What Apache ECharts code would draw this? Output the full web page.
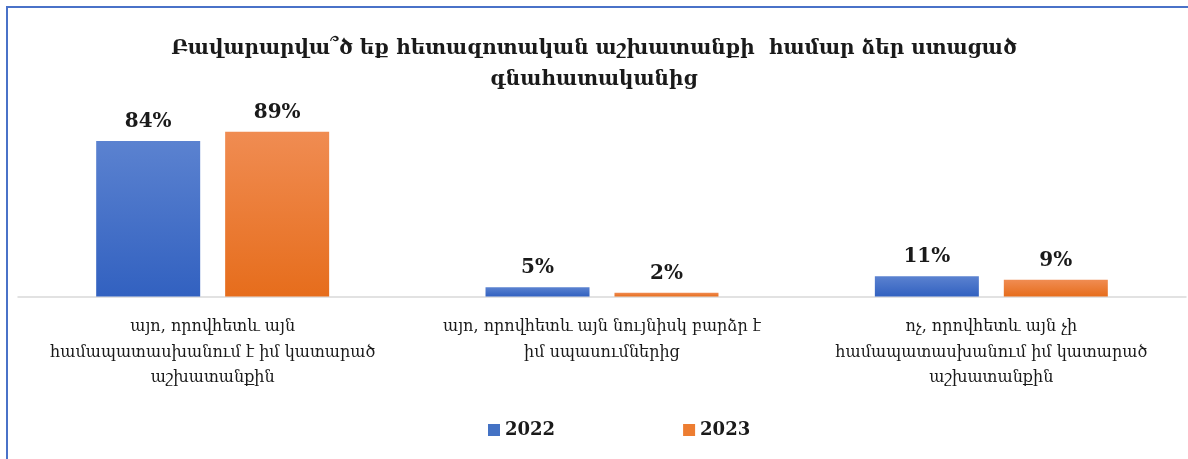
<!DOCTYPE html>
<html>
<head>
<meta charset="utf-8">
<script src="https://cdn.jsdelivr.net/npm/echarts@6/dist/echarts.min.js"></script>
<style>html,body{margin:0;padding:0;background:#fff;}#c{width:1188px;height:459px;}</style>
</head>
<body>
<div id="c"></div>
<script>
const titleText = 'Բավարարվա՞ծ եք հետազոտական աշխատանքի  համար ձեր ստացած\nգնահատականից';
const categories = [
  'այո, որովհետև այն\nհամապատասխանում է իմ կատարած\nաշխատանքին',
  'այո, որովհետև այն նույնիսկ բարձր է\nիմ սպասումներից',
  'ոչ, որովհետև այն չի\nհամապատասխանում իմ կատարած\nաշխատանքին'
];
const seriesNames = ['2022', '2023'];
const values2022 = [84, 5, 11];
const values2023 = [89, 2, 9];

const font = '"DejaVu Serif", serif';
function grad(top, bottom) {
  return new echarts.graphic.LinearGradient(0, 0, 0, 1, [
    {offset: 0, color: top}, {offset: 1, color: bottom}
  ]);
}
const chart = echarts.init(document.getElementById('c'));
chart.setOption({
  animation: false,
  backgroundColor: '#ffffff',
  title: {
    text: titleText,
    left: 'center',
    top: 28,
    textStyle: {fontFamily: font, fontSize: 20, fontWeight: 'bold', color: '#1a1a1a', lineHeight: 31}
  },
  legend: {
    bottom: 15,
    left: 483,
    itemWidth: 12,
    itemHeight: 12,
    itemGap: 128,
    icon: 'rect',
    textStyle: {fontFamily: font, fontSize: 18, fontWeight: 'bold', color: '#1a1a1a'},
    data: [
      {name: seriesNames[0], itemStyle: {color: '#4472c4'}},
      {name: seriesNames[1], itemStyle: {color: '#ed7d31'}}
    ]
  },
  grid: {left: 18, right: 2, top: 111.5, bottom: 162.5, containLabel: false},
  xAxis: {
    type: 'category',
    data: categories,
    axisLine: {lineStyle: {color: '#d9d9d9', width: 1.5}},
    axisTick: {show: false},
    axisLabel: {fontFamily: font, fontSize: 16, color: '#1a1a1a', lineHeight: 25.5, margin: 18, interval: 0}
  },
  yAxis: {type: 'value', min: 0, max: 100, show: false, splitLine: {show: false}},
  series: [
    {
      name: seriesNames[0], type: 'bar', data: values2022, barWidth: 104, barGap: '24%',
      itemStyle: {color: grad('#5b82d0', '#3261c0')},
      label: {show: true, position: 'top', distance: 9, formatter: '{c}%', fontFamily: font, fontSize: 20, fontWeight: 'bold', color: '#1a1a1a'}
    },
    {
      name: seriesNames[1], type: 'bar', data: values2023, barWidth: 104,
      itemStyle: {color: grad('#f08c52', '#e66d1c')},
      label: {show: true, position: 'top', distance: 9, formatter: '{c}%', fontFamily: font, fontSize: 20, fontWeight: 'bold', color: '#1a1a1a'}
    }
  ],
  graphic: [
    {type: 'rect', shape: {x: 6, y: 6, width: 1188, height: 2}, style: {fill: '#4a72c8'}},
    {type: 'rect', shape: {x: 6, y: 6, width: 2, height: 459}, style: {fill: '#4a72c8'}}
  ]
});
</script>
</body>
</html>
